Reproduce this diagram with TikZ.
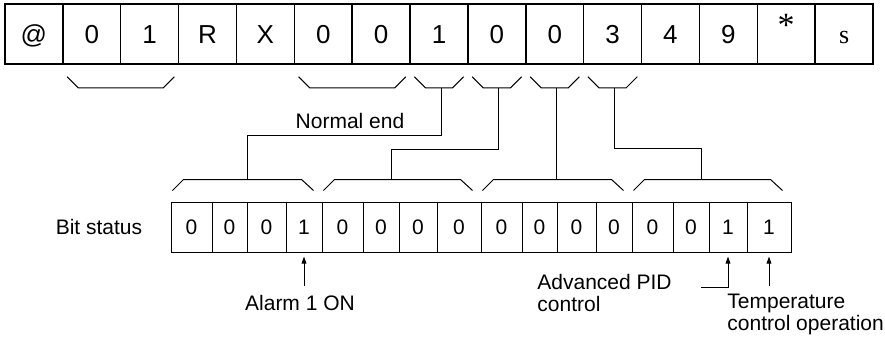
\documentclass[tikz,border=0pt]{standalone}
\usepackage{fontspec}
\setmainfont{Liberation Sans}
\newfontfamily\serifchar{Liberation Serif}
\usetikzlibrary{arrows.meta, calc}

\tikzset{
  charbox/.style={draw, line width=0.75pt, minimum width=28.93pt, minimum height=30pt, inner sep=0pt,
    text height=9pt, text depth=0pt, font=\fontsize{13}{15}\selectfont},
  bitbox/.style={draw, line width=0.5pt, minimum height=25pt, inner sep=0pt, text height=7.5pt, text depth=0pt},
  wire/.style={line width=0.5pt},
}
% bracket under a run of characters, and over a nibble of bits
\newcommand\topbrace[2]{\draw[wire] ($(#1.south west)+(5,12)$) -- ++(11,11) -- ($(#2.south east)+(-16,23)$) -- ++(11,-11);}
\newcommand\bitbrace[2]{\draw[wire] ($(#1.north west)+(2,-11)$) -- ++(11,-11) -- ($(#2.north east)+(-21,-22)$) -- ++(12,11);}
\newcommand\hiast{\raisebox{3.5pt}{\fontsize{17}{17}\selectfont\serifchar *}}

\begin{document}
\begin{tikzpicture}[x=0.5pt, y=-0.5pt, >={Triangle[length=3.6pt, width=2.4pt]}, every node/.style={font=\fontsize{10.5}{11}\selectfont}]
\useasboundingbox (0,0) rectangle (885,343);
% response frame
\foreach \c [count=\i] in {@,0,1,R,X,0,0,1,0,0,3,4,9,\hiast,{\serifchar s}}
  \node[charbox] (t\i) at ({5+57.867*(\i-0.5)},34) {\c};
\topbrace{t2}{t3}
\topbrace{t6}{t7}
\topbrace{t8}{t8}
\topbrace{t9}{t9}
\topbrace{t10}{t10}
\topbrace{t11}{t11}
\node (normal) at (350,121) {Normal end};
% bit pattern
\node (bitlbl) at (99,227) {Bit status};
\foreach \i/\l/\r/\v in {1/171/212/0, 2/212/247/0, 3/247/286/0, 4/286/322/1, 5/322/363/0, 6/363/399/0,
    7/399/437/0, 8/437/481/0, 9/481/522/0, 10/522/557/0, 11/557/596/0, 12/596/632/0,
    13/632/673/0, 14/673/709/0, 15/709/747/1, 16/747/791/1}
  \node[bitbox, minimum width={(\r-\l)*0.5pt}] (b\i) at ({(\l+\r)/2},227) {\v};
\bitbrace{b1}{b4}
\bitbrace{b5}{b8}
\bitbrace{b9}{b12}
\bitbrace{b13}{b16}
% from each character to its nibble
\coordinate (s8) at ($(t8.south)+(2,23)$);
\coordinate (s9) at ($(t9.south)+(2,23)$);
\coordinate (s10) at ($(t10.south)+(2,23)$);
\coordinate (s11) at ($(t11.south)+(2,23)$);
\coordinate (g1) at (247,180);
\coordinate (g2) at (391,180);
\coordinate (g3) at (s10 |- 0,180);
\coordinate (g4) at (701,180);
\draw[wire] (s8) -- ++(0,48) -| (g1);
\draw[wire] (s9) -- ++(0,62) -| (g2);
\draw[wire] (s10) -- (g3);
\draw[wire] (s11) -- ++(0,61) -| (g4);
% bit meanings
\node (alarm) at (300,303) {Alarm 1 ON};
\node[align=left, anchor=west, inner sep=0pt] (pid) at (537,293) {Advanced PID\\control};
\node[align=left, anchor=west, inner sep=0pt] (temp) at (727,314) {Temperature\\control operation};
\coordinate (pidend) at (701,287);
\draw[wire, ->] ([yshift=-16.5pt]b4.south) -- ([yshift=-2pt]b4.south);
\draw[wire, ->] (pidend) -| ([yshift=-2pt]b15.south);
\draw[wire, ->] ([yshift=-16.5pt]b16.south) -- ([yshift=-2pt]b16.south);
\end{tikzpicture}
\end{document}
